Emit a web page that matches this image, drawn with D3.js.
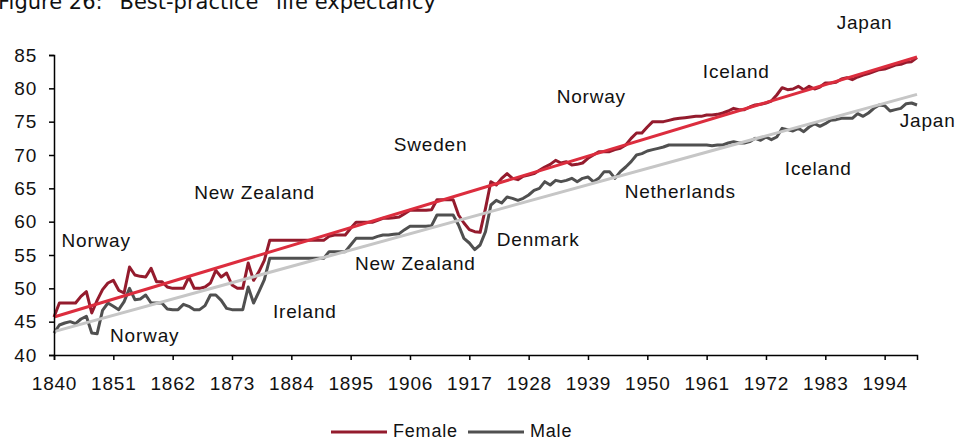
<!DOCTYPE html>
<html>
<head>
<meta charset="utf-8">
<script src="https://cdn.jsdelivr.net/npm/d3@7"></script>
<style>
  body { margin: 0; background: #fff; }
  svg text { font-family: "Liberation Sans", Arial, sans-serif; }
</style>
</head>
<body>
<div id="chart"></div>
<script>
// years on the category axis
var years = d3.range(1840, 2001);
var tickYears = [1840, 1851, 1862, 1873, 1884, 1895, 1906, 1917, 1928, 1939, 1950, 1961, 1972, 1983, 1994];
var tickValues = [40, 45, 50, 55, 60, 65, 70, 75, 80, 85];

// best-practice life expectancy, one value per year 1840..2000
var female = [
  45.7, 47.8, 47.8, 47.8, 47.8, 48.8, 49.5, 46.3, 48.2, 49.8,
  50.8, 51.2, 49.7, 49.3, 53.2, 52.0, 51.8, 51.7, 53.0, 51.0,
  51.0, 50.2, 50.0, 50.0, 50.0, 51.7, 50.0, 50.0, 50.2, 50.8,
  52.7, 51.7, 52.3, 50.5, 50.0, 50.0, 53.8, 51.2, 52.5, 54.2,
  57.2, 57.2, 57.2, 57.2, 57.2, 57.2, 57.2, 57.2, 57.2, 57.2,
  57.2, 57.8, 58.0, 58.0, 58.0, 59.0, 59.9, 59.9, 59.9, 59.9,
  60.2, 60.5, 60.5, 60.6, 60.7, 61.2, 61.7, 61.7, 61.7, 61.7,
  61.8, 63.3, 63.3, 63.3, 63.3, 61.0, 59.8, 58.8, 58.5, 58.4,
  62.0, 66.0, 65.5, 66.5, 67.2, 66.5, 66.3, 66.8, 67.0, 67.2,
  67.7, 68.2, 68.6, 69.2, 68.8, 69.0, 68.5, 68.6, 68.8, 69.5,
  70.0, 70.5, 70.5, 70.5, 70.8, 71.0, 71.5, 72.5, 73.3, 73.3,
  74.2, 75.0, 75.0, 75.0, 75.2, 75.4, 75.5, 75.6, 75.7, 75.8,
  75.8, 76.0, 76.0, 76.1, 76.3, 76.6, 77.0, 76.8, 76.8, 77.2,
  77.5, 77.6, 77.8, 78.1, 79.0, 80.1, 79.8, 79.9, 80.3, 79.8,
  80.3, 79.9, 80.2, 80.8, 80.8, 80.9, 81.4, 81.6, 81.3, 81.7,
  82.0, 82.2, 82.5, 82.8, 82.9, 83.2, 83.5, 83.6, 83.9, 84.0,
  84.6
];
var male = [
  43.3, 44.5, 44.8, 45.0, 44.7, 45.4, 45.8, 43.3, 43.2, 46.7,
  47.8, 47.3, 46.8, 48.0, 50.0, 48.3, 48.4, 49.0, 47.8, 47.8,
  47.8, 46.9, 46.8, 46.8, 47.6, 47.3, 46.8, 46.8, 47.4, 49.0,
  49.0, 48.2, 47.0, 46.8, 46.8, 46.8, 50.2, 47.8, 49.5, 51.3,
  54.5, 54.5, 54.5, 54.5, 54.5, 54.5, 54.5, 54.5, 54.5, 54.5,
  54.5, 55.5, 55.5, 55.5, 55.5, 56.5, 57.5, 57.5, 57.5, 57.5,
  57.8, 58.0, 58.0, 58.1, 58.2, 58.8, 59.3, 59.3, 59.3, 59.3,
  59.4, 61.0, 61.0, 61.0, 61.0, 59.5, 57.5, 56.8, 55.8, 56.5,
  58.5, 62.5, 63.2, 62.8, 63.7, 63.5, 63.2, 63.5, 64.0, 64.7,
  65.0, 66.0, 65.5, 66.2, 66.0, 66.2, 66.5, 66.0, 66.5, 66.7,
  66.0, 66.5, 67.5, 67.5, 66.5, 67.5, 68.2, 69.0, 70.0, 70.2,
  70.6, 70.8, 71.0, 71.2, 71.5, 71.5, 71.5, 71.5, 71.5, 71.5,
  71.5, 71.5, 71.4, 71.5, 71.5, 71.8, 72.0, 71.8, 71.8, 72.0,
  72.5, 72.2, 72.7, 72.3, 72.7, 74.0, 73.8, 73.6, 74.0, 73.5,
  74.2, 74.7, 74.3, 74.7, 75.2, 75.3, 75.5, 75.5, 75.5, 76.2,
  75.8, 76.3, 77.0, 77.5, 77.4, 76.6, 76.8, 77.0, 77.7, 77.8,
  77.5
];

// linear trend ends (1840, 2000)
var trendYears = [1840, 2000];
var femaleTrend = [45.7, 84.7];
var maleTrend = [43.5, 79.1];

// which country held the record, placed by year / value
var labelNames = ["Norway", "New Zealand", "Sweden", "Norway", "Iceland", "Japan",
                  "Norway", "Ireland", "New Zealand", "Denmark", "Netherlands", "Iceland", "Japan"];
var labelYears = [1841.4, 1866.0, 1903.0, 1933.2, 1960.3, 1985.1,
                  1850.4, 1880.6, 1895.8, 1922.1, 1945.8, 1975.5, 1996.8];
var labelValues = [56.2, 63.4, 70.6, 77.8, 81.5, 88.9,
                   41.9, 45.5, 52.7, 56.3, 63.5, 67.0, 74.2];

var seriesNames = ["Female", "Male"];

var width = 961, height = 440;
var femaleColor = "#941b2d";
var femaleTrendColor = "#dc2d3e";
var maleColor = "#505050";
var maleTrendColor = "#c6c6c6";

var svg = d3.select("#chart").append("svg")
  .attr("width", width)
  .attr("height", height);

var x = d3.scaleLinear().domain([1840, 2000]).range([54, 917]);
var y = d3.scaleLinear().domain([40, 85]).range([355, 55]);

// title, mostly cut off at the top edge
svg.append("text")
  .attr("x", -2).attr("y", 9)
  .style("font-family", "'DejaVu Sans', sans-serif")
  .attr("font-size", 21)
  .attr("fill", "#111")
  .text("Figure 26:  \u201cBest-practice\u201d life expectancy");

var line = d3.line()
  .x(function (d) { return x(d[0]); })
  .y(function (d) { return y(d[1]); });

svg.append("path")
  .datum(d3.zip(years, female))
  .attr("d", line)
  .attr("fill", "none")
  .attr("stroke", femaleColor)
  .attr("stroke-width", 3)
  .attr("stroke-linejoin", "round");

svg.append("path")
  .datum(d3.zip(years, male))
  .attr("d", line)
  .attr("fill", "none")
  .attr("stroke", maleColor)
  .attr("stroke-width", 3)
  .attr("stroke-linejoin", "round");

svg.append("path")
  .datum(d3.zip(trendYears, maleTrend))
  .attr("d", line)
  .attr("fill", "none")
  .attr("stroke", maleTrendColor)
  .attr("stroke-width", 3);

svg.append("path")
  .datum(d3.zip(trendYears, femaleTrend))
  .attr("d", line)
  .attr("fill", "none")
  .attr("stroke", femaleTrendColor)
  .attr("stroke-width", 3);

// axes
var xAxis = svg.append("g")
  .attr("transform", "translate(0,355)")
  .call(d3.axisBottom(x).tickValues(tickYears).tickSize(5).tickPadding(17).tickFormat(d3.format("d")));

var yAxis = svg.append("g")
  .attr("transform", "translate(54,0)")
  .call(d3.axisLeft(y).tickValues(tickValues).tickSize(5).tickPadding(12));

[xAxis, yAxis].forEach(function (g) {
  g.select(".domain").attr("stroke", "#000").attr("stroke-width", 1.5);
  g.selectAll(".tick line").attr("stroke", "#000").attr("stroke-width", 1.5);
  g.selectAll(".tick text")
    .attr("font-family", null)
    .attr("font-size", 19)
    .attr("fill", "#111")
    .style("letter-spacing", "0.8px");
});

// country labels
svg.selectAll(".country")
  .data(d3.range(labelNames.length))
  .enter().append("text")
  .attr("class", "country")
  .attr("x", function (i) { return x(labelYears[i]); })
  .attr("y", function (i) { return y(labelValues[i]); })
  .attr("font-size", 19)
  .attr("fill", "#111")
  .style("letter-spacing", "0.8px")
  .text(function (i) { return labelNames[i]; });

// legend
var legendColors = [femaleColor, maleColor];
var legendX = [331, 468];
var legend = svg.selectAll(".legend")
  .data(seriesNames)
  .enter().append("g")
  .attr("class", "legend")
  .attr("transform", function (d, i) { return "translate(" + legendX[i] + ",432)"; });

legend.append("line")
  .attr("x1", 0).attr("x2", 56)
  .attr("stroke", function (d, i) { return legendColors[i]; })
  .attr("stroke-width", 3);

legend.append("text")
  .attr("x", 62).attr("y", 5)
  .attr("font-size", 18)
  .attr("fill", "#111")
  .style("letter-spacing", "0.8px")
  .text(function (d) { return d; });
</script>
</body>
</html>
